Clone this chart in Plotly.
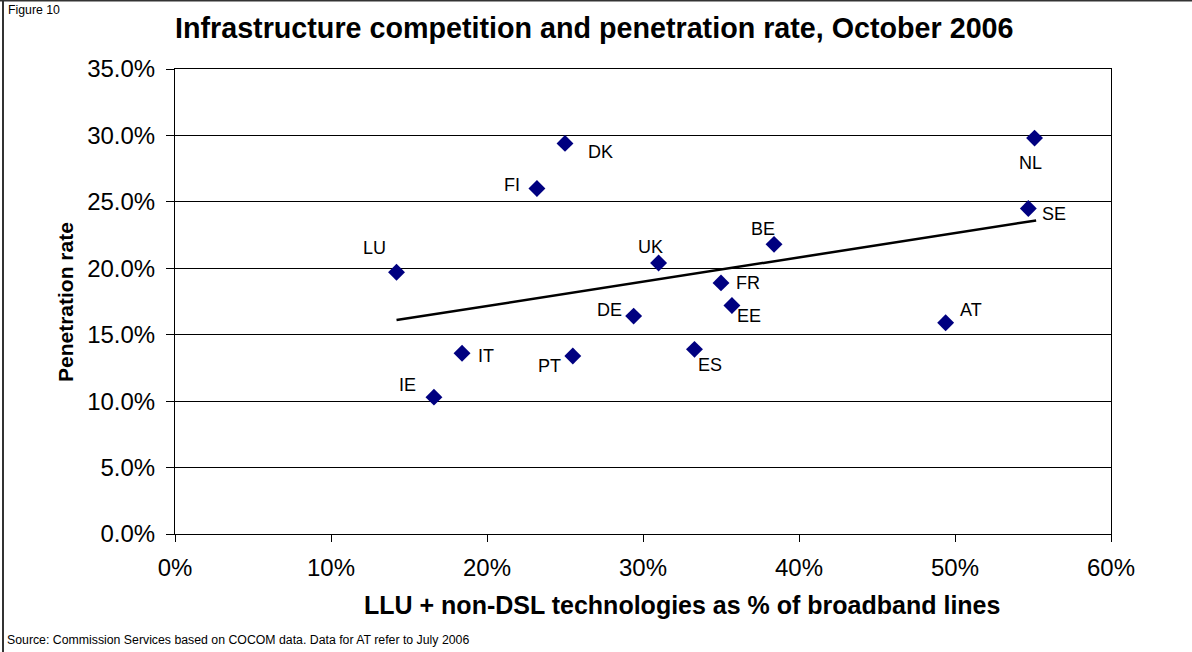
import plotly.graph_objects as go

# Data (percent)
countries = ['DK', 'FI', 'LU', 'UK', 'FR', 'EE', 'BE', 'DE', 'IT', 'PT', 'ES', 'IE', 'NL', 'SE', 'AT']
llu_share = [25.0, 23.2, 14.2, 31.0, 35.0, 35.7, 38.4, 29.4, 18.4, 25.5, 33.3, 16.6, 55.1, 54.7, 49.4]
penetration = [29.4, 26.0, 19.7, 20.4, 18.9, 17.2, 21.8, 16.4, 13.6, 13.4, 13.9, 10.3, 29.8, 24.5, 15.9]

# Linear trend line end points as drawn on the chart
trend_x = [14.2, 55.2]
trend_y = [16.1, 23.6]

x_ticks = [0, 10, 20, 30, 40, 50, 60]
y_ticks = [0, 5, 10, 15, 20, 25, 30, 35]

# label offsets in pixels (dx, dy up)
LABEL_OFFSETS = {
    'DK': (35, -9), 'FI': (-25, 4), 'LU': (-22, 24), 'UK': (-8, 16),
    'FR': (27, 0), 'EE': (17, -11), 'BE': (-11, 15), 'DE': (-24, 6),
    'IT': (24, -3), 'PT': (-23, -10), 'ES': (16, -16), 'IE': (-26, 12),
    'NL': (-4, -25), 'SE': (26, -5), 'AT': (25, 13),
}

W, H = 1192, 652
L, R, T, B = 175, 1111, 69, 534
pw, ph = R - L, B - T


def px(x):
    return (x - L) / pw


def py(y):
    return (B - y) / ph


FONT = 'Arial, Liberation Sans, sans-serif'

fig = go.Figure()

fig.add_trace(go.Scatter(
    x=trend_x, y=trend_y, mode='lines',
    line=dict(color='black', width=2.5),
    showlegend=False, hoverinfo='skip'
))

fig.add_trace(go.Scatter(
    x=llu_share, y=penetration, mode='markers',
    marker=dict(symbol='diamond', size=13, color='#000080'),
    text=countries, showlegend=False
))

annotations = []
for c, xv, yv in zip(countries, llu_share, penetration):
    dx, dy = LABEL_OFFSETS[c]
    annotations.append(dict(
        x=xv, y=yv, xref='x', yref='y', text=c, showarrow=False,
        xanchor='center', yanchor='middle',
        xshift=dx, yshift=dy, font=dict(size=18, color='black')
    ))

annotations += [
    dict(text='<b>Infrastructure competition and penetration rate, October 2006</b>',
         xref='paper', yref='paper', x=px(594), y=py(28), showarrow=False,
         xanchor='center', yanchor='middle',
         font=dict(size=28.7, color='black')),
    dict(text='Figure 10', xref='paper', yref='paper', x=px(6), y=py(10),
         xanchor='left', yanchor='middle', showarrow=False,
         font=dict(size=12.3, color='black')),
    dict(text='<b>Penetration rate</b>', xref='paper', yref='paper',
         x=px(65), y=py(302), textangle=-90, showarrow=False,
         xanchor='center', yanchor='middle',
         font=dict(size=21, color='black')),
    dict(text='<b>LLU + non-DSL technologies as % of broadband lines</b>',
         xref='paper', yref='paper', x=px(682), y=py(605), showarrow=False,
         xanchor='center', yanchor='middle',
         font=dict(size=25, color='black')),
    dict(text='Source: Commission Services based on COCOM data. Data for AT refer to July 2006',
         xref='paper', yref='paper', x=px(5), y=py(640),
         xanchor='left', yanchor='middle',
         showarrow=False, font=dict(size=12.3, color='black')),
]

shapes = [
    # outer frame (left and top edges visible)
    dict(type='line', xref='paper', yref='paper', x0=px(3), x1=px(3), y0=py(0), y1=py(652),
         line=dict(color='#333333', width=2)),
    dict(type='line', xref='paper', yref='paper', x0=px(0), x1=px(1192), y0=py(0.5), y1=py(0.5),
         line=dict(color='#333333', width=2)),
]

fig.update_layout(
    width=W, height=H,
    margin=dict(l=L, r=W - R, t=T, b=H - B),
    paper_bgcolor='white', plot_bgcolor='white',
    font=dict(family=FONT, color='black'),
    annotations=annotations,
    shapes=shapes,
    xaxis=dict(
        range=[0, 60], tickvals=x_ticks, ticktext=[f'{v}%' for v in x_ticks],
        showgrid=False, zeroline=False, showline=True, linecolor='black', linewidth=1,
        mirror=True, ticks='outside', ticklen=7, tickcolor='black',
        tickfont=dict(size=24, color='black'), ticklabelstandoff=5
    ),
    yaxis=dict(
        range=[0, 35], tickvals=y_ticks, ticktext=[f'{v:.1f}%' for v in y_ticks],
        showgrid=True, gridcolor='black', gridwidth=1, zeroline=False,
        showline=True, linecolor='black', linewidth=1, mirror=True,
        ticks='outside', ticklen=8, tickcolor='black',
        tickfont=dict(size=24, color='black'), ticklabelstandoff=6
    ),
)

# drop the default page margin so the figure sits at the window's top-left
fig.write_html('out.html', config={'displayModeBar': False},
               post_script="document.body.style.margin='0';")
